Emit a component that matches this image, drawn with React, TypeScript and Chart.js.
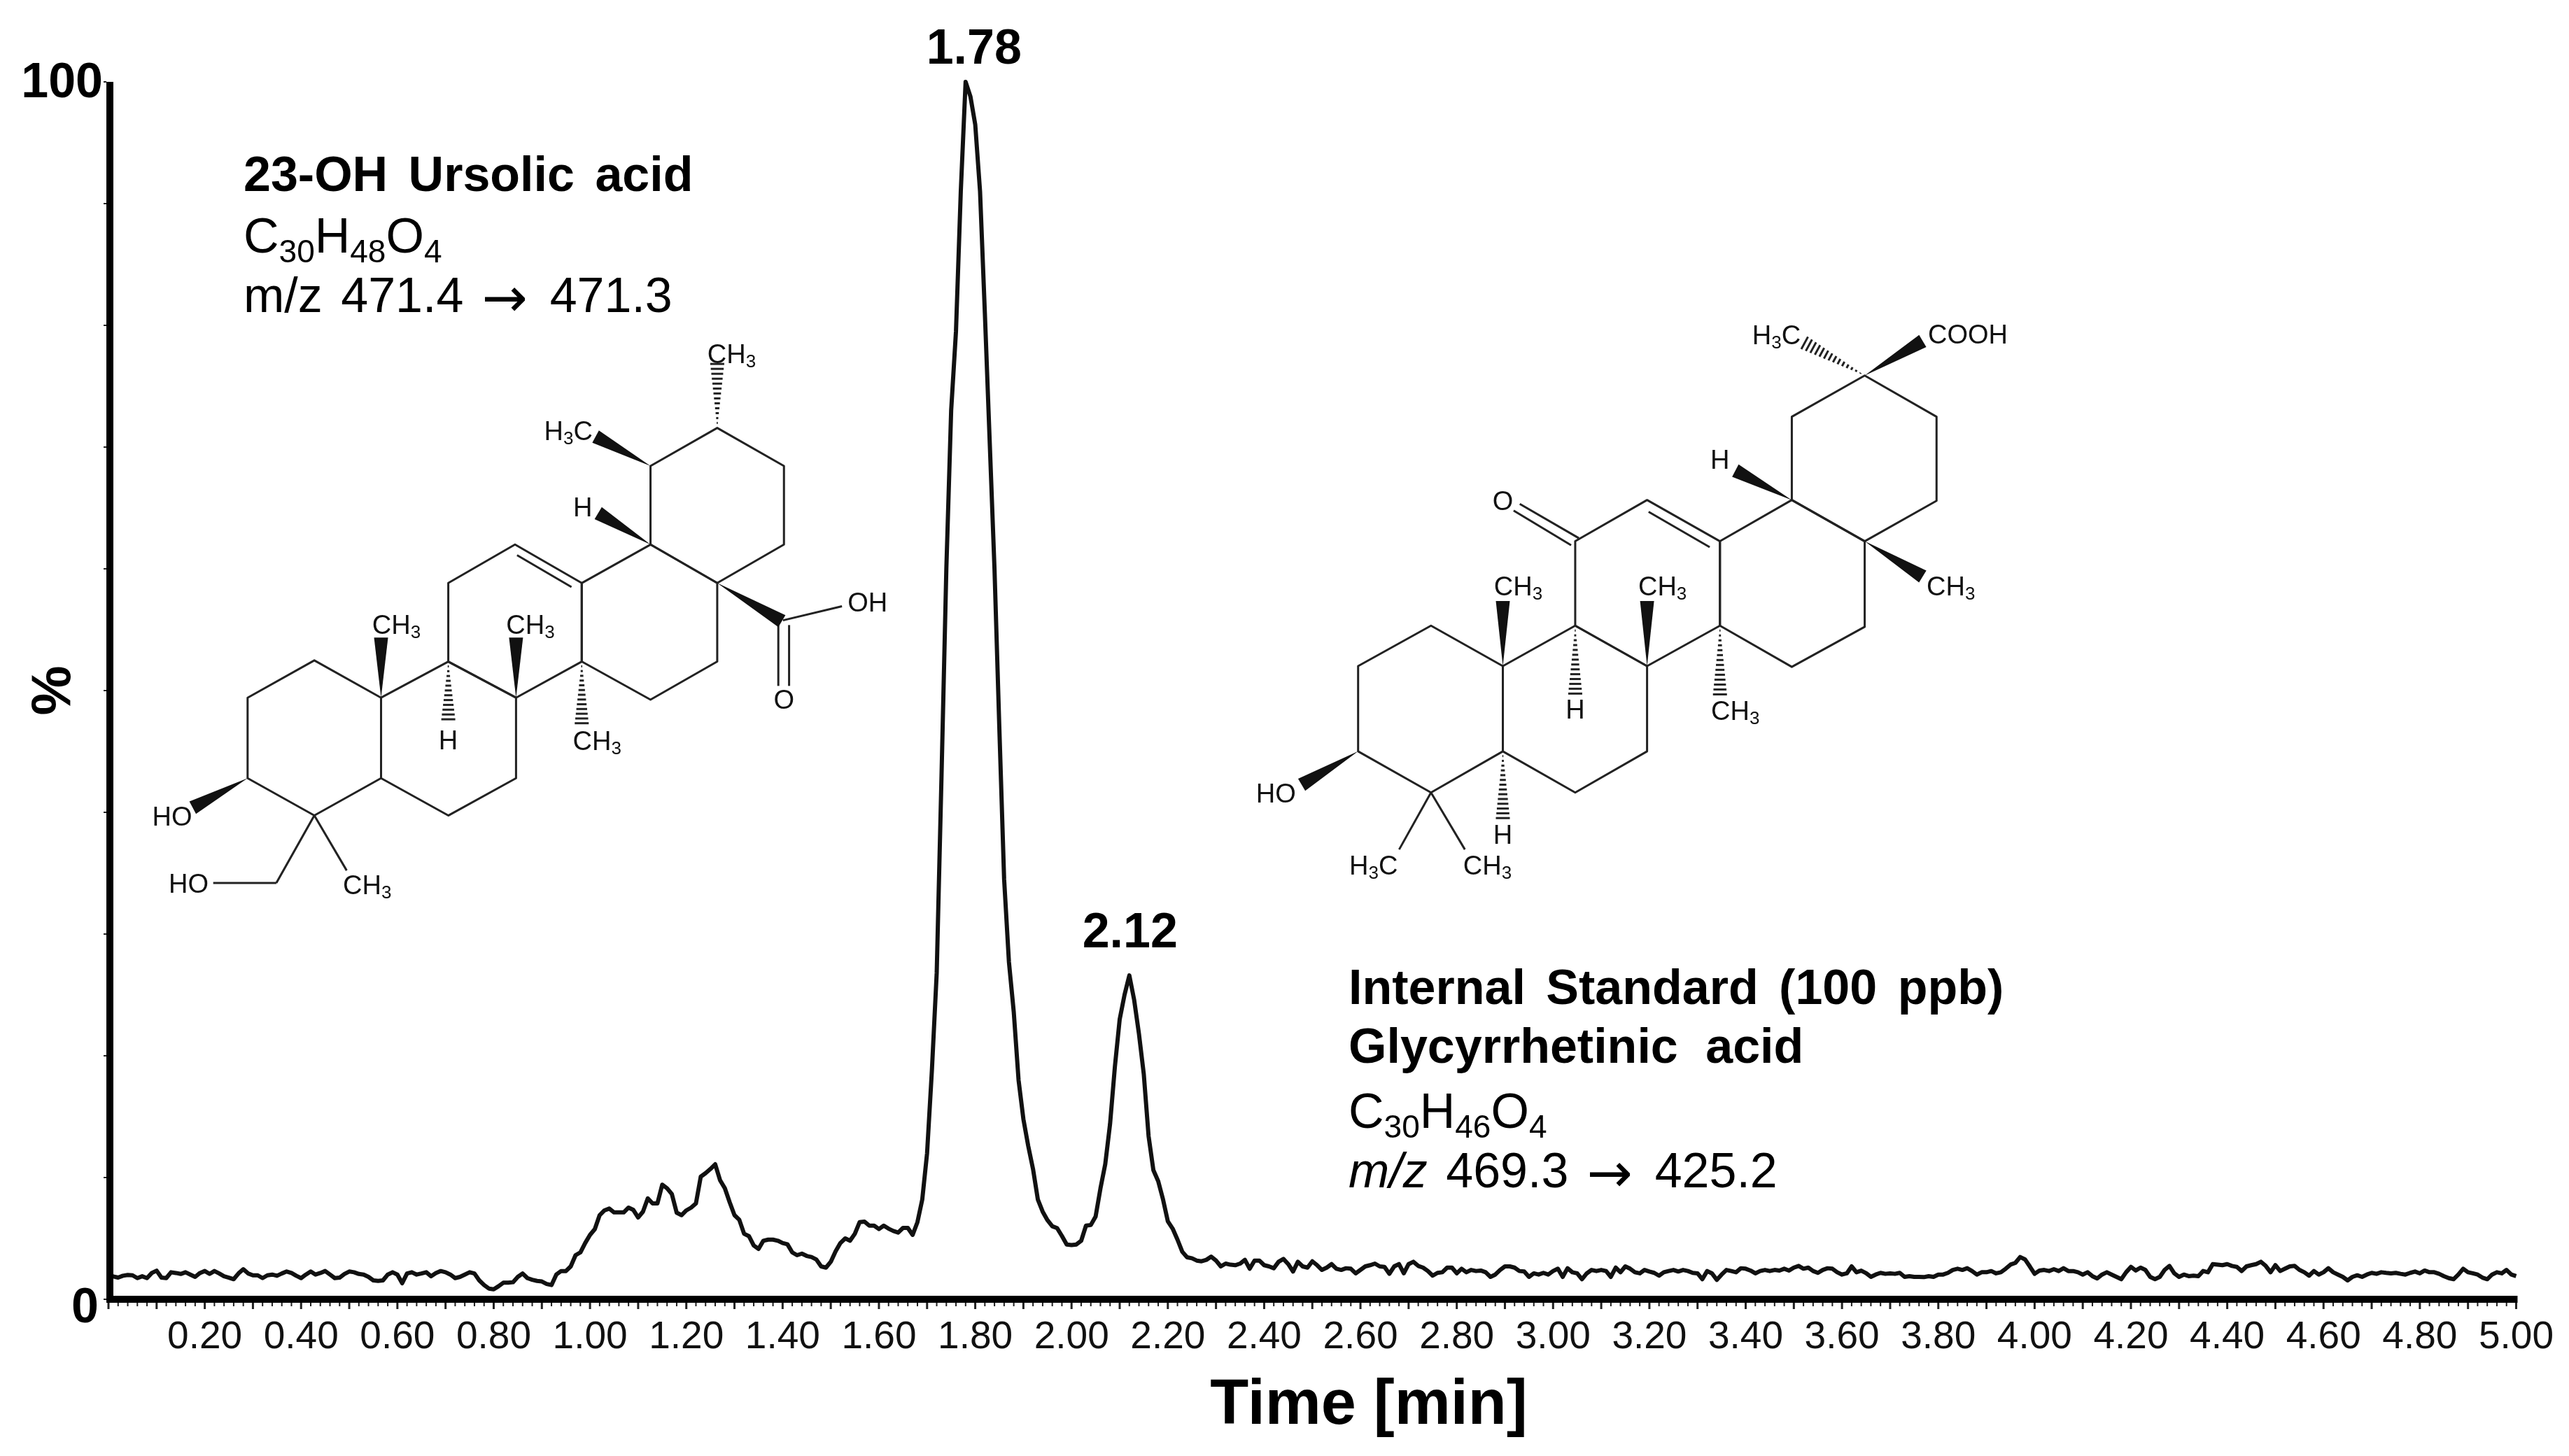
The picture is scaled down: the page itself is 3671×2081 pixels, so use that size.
import React, { useEffect, useRef } from "react";
import { Chart, registerables } from "chart.js";

Chart.register(...registerables);

const FONT = '"Liberation Sans", Arial, sans-serif';
const WIDTH = 3671;
const HEIGHT = 2081;

// Signal in %, one value each 0.01 min from 0.00 to 5.00
const intensityPercent = [
  1.93, 1.88, 1.78, 1.93, 2.0, 1.97, 1.74, 1.89, 1.74, 2.16,
  2.35, 1.78, 1.74, 2.22, 2.16, 2.08, 2.22, 2.03, 1.84, 2.16,
  2.32, 2.08, 2.32, 2.12, 1.89, 1.78, 1.65, 2.12, 2.47, 2.12,
  1.97, 1.97, 1.74, 1.97, 2.03, 1.93, 2.12, 2.28, 2.16, 1.93,
  1.74, 2.03, 2.28, 2.03, 2.16, 2.32, 2.03, 1.74, 1.78, 2.08,
  2.28, 2.22, 2.08, 2.03, 1.84, 1.55, 1.51, 1.55, 2.03, 2.22,
  2.03, 1.32, 2.12, 2.22, 2.03, 2.12, 2.22, 1.89, 2.16, 2.32,
  2.22, 2.03, 1.74, 1.84, 2.03, 2.22, 2.12, 1.55, 1.17, 0.88,
  0.82, 1.07, 1.36, 1.36, 1.4, 1.84, 2.12, 1.74, 1.6, 1.51,
  1.46, 1.26, 1.17, 2.03, 2.32, 2.32, 2.7, 3.62, 3.85, 4.62,
  5.29, 5.76, 6.91, 7.3, 7.45, 7.14, 7.14, 7.14, 7.53, 7.34,
  6.72, 7.2, 8.29, 7.87, 7.87, 9.41, 9.12, 8.64, 7.11, 6.91,
  7.3, 7.53, 7.87, 10.07, 10.36, 10.7, 11.09, 9.79, 9.12, 7.97,
  6.91, 6.53, 5.38, 5.19, 4.42, 4.14, 4.81, 4.9, 4.9, 4.81,
  4.62, 4.52, 3.85, 3.62, 3.75, 3.56, 3.47, 3.27, 2.7, 2.6,
  3.08, 3.94, 4.62, 5.0, 4.81, 5.38, 6.34, 6.38, 6.05, 6.05,
  5.77, 6.05, 5.8, 5.61, 5.48, 5.86, 5.86, 5.29, 6.34, 8.2,
  12.0, 18.8, 26.8, 43, 60, 73, 79.5, 91, 100, 98.8,
  96.5, 91, 81, 70.5, 60, 47, 34.5, 27.7, 23.6, 18,
  14.8, 12.6, 10.7, 8.2, 7.2, 6.5, 6.0, 5.85, 5.2, 4.5,
  4.45, 4.5, 4.8, 6.05, 6.1, 6.8, 9.1, 11.1, 14.4, 19.1,
  23, 25, 26.6, 24.6, 21.8, 18.5, 13.4, 10.6, 9.7, 8.2,
  6.4, 5.8, 4.9, 3.9, 3.45, 3.37, 3.18, 3.12, 3.24, 3.5,
  3.18, 2.7, 2.93, 2.84, 2.8, 2.93, 3.24, 2.51, 3.18, 3.18,
  2.8, 2.7, 2.55, 3.08, 3.31, 2.89, 2.28, 3.08, 2.7, 2.6,
  3.12, 2.8, 2.41, 2.6, 2.89, 2.51, 2.41, 2.55, 2.51, 2.13,
  2.41, 2.7, 2.8, 2.93, 2.7, 2.66, 2.09, 2.7, 2.89, 2.13,
  2.89, 3.08, 2.74, 2.6, 2.32, 1.94, 2.17, 2.22, 2.6, 2.6,
  2.13, 2.51, 2.22, 2.41, 2.32, 2.36, 2.22, 1.84, 2.03, 2.41,
  2.7, 2.7, 2.6, 2.32, 2.28, 1.84, 2.13, 2.03, 2.17, 2.03,
  2.32, 2.51, 1.84, 2.55, 2.22, 2.13, 1.65, 2.13, 2.41, 2.32,
  2.41, 2.32, 1.84, 2.6, 2.22, 2.7, 2.51, 2.22, 2.13, 2.41,
  2.28, 2.17, 1.94, 2.22, 2.32, 2.41, 2.28, 2.41, 2.32, 2.17,
  2.13, 1.65, 2.32, 2.13, 1.59, 2.03, 2.41, 2.32, 2.22, 2.55,
  2.51, 2.36, 2.13, 2.32, 2.41, 2.32, 2.41, 2.36, 2.51, 2.36,
  2.6, 2.74, 2.51, 2.6, 2.32, 2.17, 2.41, 2.55, 2.51, 2.22,
  2.03, 2.13, 2.7, 2.22, 2.35, 2.15, 1.84, 2.03, 2.17, 2.09,
  2.13, 2.09, 2.17, 1.84, 1.9, 1.84, 1.84, 1.82, 1.9, 1.84,
  2.03, 2.03, 2.17, 2.41, 2.51, 2.41, 2.55, 2.32, 2.03, 2.22,
  2.22, 2.32, 2.13, 2.22, 2.51, 2.85, 2.99, 3.47, 3.28, 2.7,
  2.09, 2.36, 2.41, 2.32, 2.47, 2.32, 2.55, 2.32, 2.32, 2.22,
  2.03, 2.22, 1.9, 1.71, 2.03, 2.22, 2.03, 1.84, 1.65, 2.22,
  2.66, 2.36, 2.6, 2.41, 1.84, 1.65, 1.84, 2.41, 2.74, 2.13,
  1.84, 2.03, 1.9, 1.94, 1.9, 2.32, 2.22, 2.89, 2.85, 2.8,
  2.89, 2.74, 2.66, 2.32, 2.7, 2.8, 2.89, 3.08, 2.74, 2.22,
  2.8, 2.32, 2.51, 2.7, 2.74, 2.41, 2.22, 1.94, 2.32, 2.03,
  2.22, 2.55, 2.22, 2.03, 1.84, 1.55, 1.84, 1.97, 1.84, 2.03,
  2.17, 2.09, 2.22, 2.17, 2.13, 2.17, 2.09, 2.03, 2.17, 2.28,
  2.13, 2.36, 2.22, 2.22, 2.09, 1.9, 1.74, 1.65, 2.03, 2.51,
  2.22, 2.13, 2.03, 1.78, 1.65, 2.03, 2.22, 2.13, 2.41, 2.03,
  1.9,
];
const timeStepMin = 0.01;
const peakTimes = [1.78, 2.12];
const peakHeights = [100, 26.6];
const xAxisTitle = "Time [min]";
const yAxisTitle = "%";
const yLabelledTicks = [0, 100];

// Skeletal formulas: closed rings, plain bonds, wedges, hashes and labels
type Pt = [number, number];
type Mol = {
  ox: number; oy: number;
  rings: Pt[][];
  bonds: [Pt, Pt][];
  wedges: [Pt, Pt][];
  hashes: [Pt, Pt][];
  labels: [string, number, number][];
};
const ursolicAcid: Mol = {
  ox: 180, oy: 450,
  rings: [
    [[237,975],[367,880],[497,975],[497,1180],[367,1275],[237,1180]],
    [[497,975],[628,883],[760,975],[760,1180],[628,1275],[497,1180]],
    [[628,883],[628,683],[758,585],[888,683],[888,883],[760,975]],
    [[888,683],[1022,585],[1152,683],[1152,883],[1022,980],[888,883]],
    [[1022,585],[1022,385],[1152,288],[1282,385],[1282,585],[1152,683]],
  ],
  bonds: [
    [[762,612],[868,693]],
    [[1280,778],[1395,742]],
    [[1271,790],[1271,945]],
    [[1292,790],[1292,945]],
    [[367,1275],[293,1447]],
    [[293,1447],[170,1447]],
    [[367,1275],[430,1415]],
  ],
  wedges: [
    [[1022,385],[915,310]],
    [[1022,585],[920,505]],
    [[1152,683],[1278,780]],
    [[497,975],[497,822]],
    [[760,975],[760,822]],
    [[237,1180],[130,1255]],
  ],
  hashes: [
    [[1152,288],[1152,125]],
    [[628,883],[628,1030]],
    [[888,883],[888,1040]],
  ],
  labels: [
    ["CH3",1180,100],["H3C",862,295],["H",890,490],["OH",1445,733],["O",1282,980],
    ["CH3",527,790],["CH3",788,790],["H",628,1083],["CH3",918,1085],
    ["HO",90,1278],["HO",122,1448],["CH3",470,1453],
  ],
};
const glycyrrhetinicAcid: Mol = {
  ox: 1750, oy: 420,
  rings: [
    [[260,948],[402,845],[542,948],[542,1165],[402,1270],[260,1165]],
    [[542,948],[683,845],[823,948],[823,1165],[683,1270],[542,1165]],
    [[683,845],[683,630],[823,525],[965,630],[965,845],[823,948]],
    [[965,630],[1105,525],[1247,630],[1247,848],[1105,950],[965,845]],
    [[1105,525],[1105,313],[1247,208],[1387,313],[1387,527],[1247,630]],
  ],
  bonds: [
    [[826,555],[945,645]],
    [[690,622],[575,535]],
    [[675,640],[563,552]],
    [[402,1270],[340,1415]],
    [[402,1270],[468,1415]],
  ],
  wedges: [
    [[1247,208],[1360,120]],
    [[1105,525],[995,450]],
    [[1247,630],[1360,720]],
    [[542,948],[542,782]],
    [[823,948],[823,782]],
    [[260,1165],[150,1250]],
  ],
  hashes: [
    [[1247,208],[1130,125]],
    [[683,845],[683,1018]],
    [[965,845],[965,1020]],
    [[542,1165],[542,1335]],
  ],
  labels: [
    ["COOH",1448,103],["H3C",1075,105],["H",965,423],["O",542,527],["CH3",1415,745],
    ["CH3",572,745],["CH3",853,745],["H",683,1058],["CH3",995,1062],
    ["HO",100,1272],["H",542,1378],["H3C",290,1455],["CH3",512,1455],
  ],
};
const molecules = [ursolicAcid, glycyrrhetinicAcid];

// Annotation text: [text, style]; style b bold, n normal, i italic, s subscript, a arrow
type Run = [string, string];
const annotationLines: { x: number; y: number; ws: number; runs: Run[] }[] = [
  { x: 348, y: 273, ws: 10, runs: [["23-OH Ursolic acid", "b"]] },
  { x: 348, y: 361, ws: 0, runs: [["C","n"],["30","s"],["H","n"],["48","s"],["O","n"],["4","s"]] },
  { x: 348, y: 446, ws: 7, runs: [["m/z 471.4 ", "n"],["\u2192","a"],[" 471.3","n"]] },
  { x: 1927, y: 1435, ws: 10, runs: [["Internal Standard (100 ppb)", "b"]] },
  { x: 1927, y: 1519, ws: 20, runs: [["Glycyrrhetinic acid", "b"]] },
  { x: 1927, y: 1612, ws: 0, runs: [["C","n"],["30","s"],["H","n"],["46","s"],["O","n"],["4","s"]] },
  { x: 1927, y: 1697, ws: 7, runs: [["m/z","i"],[" 469.3 ","n"],["\u2192","a"],[" 425.2","n"]] },
];

const runFont = (style: string) => {
  if (style === "b") return `bold 70px ${FONT}`;
  if (style === "i") return `italic 70px ${FONT}`;
  if (style === "s") return `46px ${FONT}`;
  if (style === "a") return `78px "DejaVu Sans"`;
  return `70px ${FONT}`;
};

function drawMolecule(ctx: CanvasRenderingContext2D, m: Mol) {
  const sx = 1150 / 1568;
  const sy = 880 / 1568;
  const X = (p: Pt) => m.ox + p[0] * sx;
  const Y = (p: Pt) => m.oy + p[1] * sy;
  ctx.save();
  ctx.strokeStyle = "#222";
  ctx.fillStyle = "#111";
  ctx.lineWidth = 3;
  ctx.lineJoin = "round";
  for (const ring of m.rings) {
    ctx.beginPath();
    ring.forEach((p, i) => (i ? ctx.lineTo(X(p), Y(p)) : ctx.moveTo(X(p), Y(p))));
    ctx.closePath();
    ctx.stroke();
  }
  for (const [a, b] of m.bonds) {
    ctx.beginPath();
    ctx.moveTo(X(a), Y(a));
    ctx.lineTo(X(b), Y(b));
    ctx.stroke();
  }
  for (const [a, b] of m.wedges) {
    const dx = X(b) - X(a), dy = Y(b) - Y(a), L = Math.hypot(dx, dy);
    const nx = (-dy / L) * 10, ny = (dx / L) * 10;
    ctx.beginPath();
    ctx.moveTo(X(a), Y(a));
    ctx.lineTo(X(b) + nx, Y(b) + ny);
    ctx.lineTo(X(b) - nx, Y(b) - ny);
    ctx.closePath();
    ctx.fill();
  }
  for (const [a, b] of m.hashes) {
    const dx = X(b) - X(a), dy = Y(b) - Y(a), L = Math.hypot(dx, dy);
    const n = Math.max(6, Math.round(L / 7));
    ctx.lineWidth = 3;
    for (let i = 1; i <= n; i++) {
      const f = i / n;
      const nx = (-dy / L) * 10 * f, ny = (dx / L) * 10 * f;
      const cx = X(a) + dx * f, cy = Y(a) + dy * f;
      ctx.beginPath();
      ctx.moveTo(cx + nx, cy + ny);
      ctx.lineTo(cx - nx, cy - ny);
      ctx.stroke();
    }
  }
  ctx.textBaseline = "alphabetic";
  ctx.textAlign = "left";
  for (const [label, lx, ly] of m.labels) {
    const parts = label.split(/(\d)/).filter(Boolean);
    let w = 0;
    for (const part of parts) {
      ctx.font = `${/\d/.test(part) ? 26 : 38}px ${FONT}`;
      w += ctx.measureText(part).width;
    }
    let cx = m.ox + lx * sx - w / 2;
    const by = m.oy + ly * sy + 13;
    for (const part of parts) {
      const isSub = /\d/.test(part);
      ctx.font = `${isSub ? 26 : 38}px ${FONT}`;
      ctx.fillText(part, cx, isSub ? by + 6 : by);
      cx += ctx.measureText(part).width;
    }
  }
  ctx.restore();
}

const drawingPlugin = {
  id: "chromatogramExtras",
  beforeDraw(chart: any) {
    // The 0 label sits lower and further left than the 100 label in the source
    const items = chart.scales.y.getLabelItems();
    for (const item of items) {
      if ((item.label === "0" || item.label === "100") && !item.__moved) {
        const isZero = item.label === "0";
        item.options.translation = [
          item.options.translation[0] - (isZero ? 6 : 0),
          item.options.translation[1] + (isZero ? 14 : 3),
        ];
        item.__moved = true;
      }
    }
  },
  afterDraw(chart: any) {
    const { ctx, scales } = chart;
    const x = scales.x;
    const y = scales.y;
    ctx.save();
    ctx.fillStyle = "#000";
    const axisLeft = x.left - 3;
    const axisRight = x.right + 2;
    const baseY = y.bottom;
    // axis lines
    ctx.fillRect(axisLeft, y.top, 10, baseY + 5 - y.top);
    ctx.fillRect(axisLeft, baseY - 5, axisRight - axisLeft, 10);
    // x tick marks from the scale's own ticks
    ctx.fillStyle = "#222";
    for (const t of x.ticks) {
      const hund = Math.round(t.value * 100);
      const isMajor = hund % 10 === 0;
      const px = x.getPixelForValue(t.value);
      ctx.fillRect(px - (isMajor ? 1.5 : 1), baseY + 5, isMajor ? 3 : 2, isMajor ? 9 : 5);
    }
    // y tick marks
    for (const t of y.ticks) {
      const py = y.getPixelForValue(t.value);
      ctx.fillRect(axisLeft - 4, py - 1, 4, 2);
    }
    // peak labels
    ctx.fillStyle = "#000";
    ctx.textAlign = "center";
    ctx.textBaseline = "alphabetic";
    ctx.font = `bold 70px ${FONT}`;
    peakTimes.forEach((time, i) => {
      const dx = i === 0 ? 12 : 1;
      const dy = i === 0 ? 26 : 40;
      ctx.fillText(
        time.toFixed(2),
        x.getPixelForValue(time) + dx,
        y.getPixelForValue(peakHeights[i]) - dy
      );
    });
    // x axis title
    ctx.font = `bold 90px ${FONT}`;
    ctx.fillText(xAxisTitle, 1956, 2035);
    // annotation text
    ctx.textAlign = "left";
    for (const line of annotationLines) {
      let cx = line.x;
      (ctx as any).wordSpacing = `${line.ws}px`;
      for (const [text, style] of line.runs) {
        ctx.font = runFont(style);
        const dy = style === "s" ? 14 : style === "a" ? 6 : 0;
        ctx.fillText(text, cx, line.y + dy);
        cx += ctx.measureText(text).width + (style === "a" ? 5 : 0);
      }
    }
    (ctx as any).wordSpacing = "0px";
    ctx.restore();
    molecules.forEach((m) => drawMolecule(ctx, m));
  },
};

export default function App() {
  const ref = useRef<HTMLCanvasElement>(null);
  useEffect(() => {
    document.body.style.margin = "0";
    const chart = new Chart(ref.current as HTMLCanvasElement, {
      type: "line",
      data: {
        datasets: [
          {
            label: "23-OH Ursolic acid",
            data: intensityPercent.map((v, i) => ({ x: i * timeStepMin, y: v })),
            borderColor: "#111",
            borderWidth: 6,
            pointRadius: 0,
            tension: 0,
            fill: false,
            borderJoinStyle: "round",
            clip: false,
          },
        ],
      },
      plugins: [drawingPlugin],
      options: {
        responsive: false,
        animation: false,
        layout: { autoPadding: false, padding: { top: 117, right: 74, left: 0, bottom: 0 } },
        plugins: { legend: { display: false }, tooltip: { enabled: false } },
        scales: {
          x: {
            type: "linear",
            min: 0,
            max: 5,
            afterFit: (s: any) => { s.height = 224; },
            grid: { display: false, drawTicks: false },
            border: { display: false },
            ticks: {
              stepSize: 0.02,
              autoSkip: false,
              maxRotation: 0,
              minRotation: 0,
              padding: 22,
              color: "#111",
              font: { family: FONT, size: 55 },
              callback: (v: any) => {
                const h = Math.round(Number(v) * 100);
                return h > 0 && h % 20 === 0 ? (h / 100).toFixed(2) : "";
              },
            },
          },
          y: {
            min: 0,
            max: 100,
            afterFit: (s: any) => { s.width = 155; },
            grid: { display: false, drawTicks: false },
            border: { display: false },
            title: {
              display: true,
              text: yAxisTitle,
              color: "#000",
              font: { family: FONT, size: 80, weight: "bold" },
              padding: { top: 30, bottom: 0 },
            },
            ticks: {
              stepSize: 10,
              autoSkip: false,
              padding: 8,
              color: "#000",
              font: { family: FONT, size: 70, weight: "bold" },
              callback: (v: any) => (yLabelledTicks.includes(Number(v)) ? String(v) : ""),
            },
          },
        },
      },
    } as any);
    return () => chart.destroy();
  }, []);
  return (
    <div style={{ position: "absolute", left: 0, top: 0, width: WIDTH, height: HEIGHT, background: "#fff" }}>
      <canvas ref={ref} width={WIDTH} height={HEIGHT} style={{ display: "block" }} />
    </div>
  );
}
